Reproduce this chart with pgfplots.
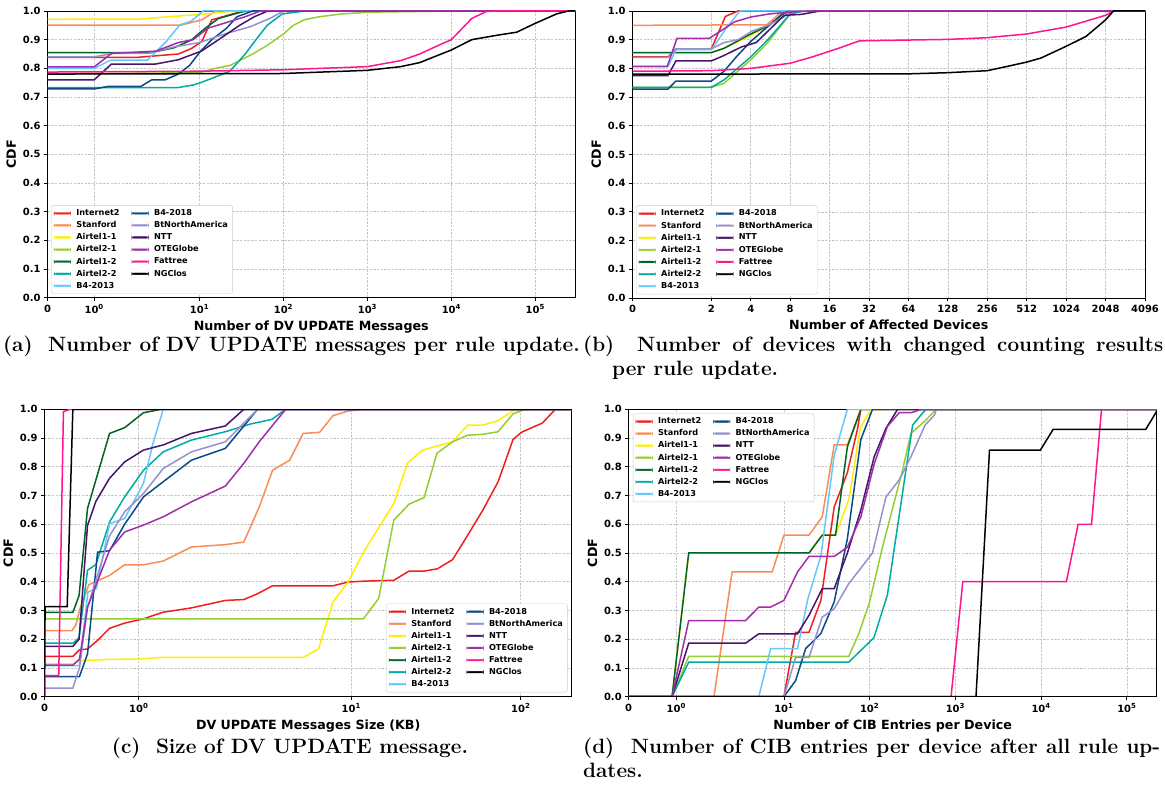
\documentclass[border=0pt]{standalone}
\usepackage{fontspec}
\usepackage{pgfplots}
\pgfplotsset{compat=1.18}
\newfontfamily\dv{DejaVu Sans}
\definecolor{cInt}{RGB}{240,30,30}
\definecolor{cStan}{RGB}{250,140,85}
\definecolor{cAa}{RGB}{255,238,0}
\definecolor{cAb}{RGB}{150,205,50}
\definecolor{cAc}{RGB}{0,100,35}
\definecolor{cAd}{RGB}{0,172,162}
\definecolor{cBa}{RGB}{100,200,250}
\definecolor{cBb}{RGB}{10,75,135}
\definecolor{cBt}{RGB}{150,145,205}
\definecolor{cNTT}{RGB}{70,20,105}
\definecolor{cOTE}{RGB}{160,45,170}
\definecolor{cFat}{RGB}{255,20,145}
\definecolor{cNG}{RGB}{0,0,0}
\pgfplotsset{
  base/.style={
    scale only axis,
    ymin=0,ymax=1,
    ytick={0,0.1,0.2,0.3,0.4,0.5,0.6,0.7,0.8,0.9,1},
    yticklabels={0.0,0.1,0.2,0.3,0.4,0.5,0.6,0.7,0.8,0.9,1.0},
    tick label style={font=\dv\bfseries\fontsize{10}{12}\selectfont},
    label style={font=\dv\bfseries\fontsize{12.7}{15}\selectfont},
    ylabel={CDF},
    grid=major,
    grid style={dash pattern=on 2.4bp off 1.3bp, color=black!22, line width=0.6bp},
    axis line style={line width=0.9bp},
    tick align=outside, xtick pos=bottom, ytick pos=left,
    major tick length=3.5bp, tick style={black, line width=0.8bp},
    legend cell align=left,
    legend columns=2,
    legend image code/.code={\fill[##1] (0bp,-0.8bp) rectangle (16.5bp,0.8bp);},
    legend style={font=\dv\bfseries\fontsize{8.2}{9.8}\selectfont, draw=black!20, rounded corners=2bp, fill=white, inner xsep=2.5bp, inner ysep=2bp, nodes={inner ysep=2.2bp},
      /tikz/every odd column/.append style={column sep=3.5bp},
      /tikz/every even column/.append style={column sep=10bp}},
  },
  p/.style={forget plot, line width=1.5bp},
  sym10/.style={x filter/.expression={min(x,2)*0.5555556+ln(max(x,2)/2)*0.4342945}},
  sym2/.style={x filter/.expression={min(x,2)+ln(max(x,2)/2)*1.4426950}},
}
\newcommand\LEG{%
\addlegendimage{cInt}\addlegendentry{Internet2}
\addlegendimage{cBb}\addlegendentry{B4-2018}
\addlegendimage{cStan}\addlegendentry{Stanford}
\addlegendimage{cBt}\addlegendentry{BtNorthAmerica}
\addlegendimage{cAa}\addlegendentry{Airtel1-1}
\addlegendimage{cNTT}\addlegendentry{NTT}
\addlegendimage{cAb}\addlegendentry{Airtel2-1}
\addlegendimage{cOTE}\addlegendentry{OTEGlobe}
\addlegendimage{cAc}\addlegendentry{Airtel1-2}
\addlegendimage{cFat}\addlegendentry{Fattree}
\addlegendimage{cAd}\addlegendentry{Airtel2-2}
\addlegendimage{cNG}\addlegendentry{NGClos}
\addlegendimage{cBa}\addlegendentry{B4-2013}}
\begin{document}
\begin{tikzpicture}
\useasboundingbox (0,0) rectangle (1165bp,789bp);
% ---------------- (a)
\begin{axis}[base, sym10, at={(47.6bp,491.3bp)}, anchor=south west,
  width=527.4bp, height=286.7bp,
  xmin=0, xmax=6.283,
  xtick={0,0.5556,1.8101,2.8101,3.8101,4.8101,5.8101},
  xticklabels={0,10\textsuperscript{0},10\textsuperscript{1},10\textsuperscript{2},10\textsuperscript{3},10\textsuperscript{4},10\textsuperscript{5}},
  xlabel={Number of DV UPDATE Messages},
  legend style={at={(0.007,0.013)},anchor=south west}]
\addplot[p,cInt] coordinates {(0,0.838)(1.9,0.838)(5.6,0.85)(8,0.869)(10.6,0.893)(14,0.969)(33,1)(3e5,1)};
\addplot[p,cStan] coordinates {(0,0.951)(6.1,0.951)(10.6,0.969)(15.3,0.998)(17,1)(3e5,1)};
\addplot[p,cAa] coordinates {(0,0.971)(2,0.972)(4.2,0.98)(10.6,0.988)(22,0.998)(33,1)(3e5,1)};
\addplot[p,cAb] coordinates {(0,0.78)(10,0.785)(15.5,0.80)(23,0.81)(43,0.85)(64,0.88)(100,0.92)(131,0.95)(179,0.97)(270,0.98)(500,0.99)(1100,0.996)(10000,1)(3e5,1)};
\addplot[p,cAc] coordinates {(0,0.855)(2.7,0.855)(5,0.872)(8,0.899)(11.6,0.939)(16.8,0.974)(33,0.998)(45,1)(3e5,1)};
\addplot[p,cAd] coordinates {(0,0.733)(5.6,0.733)(8.4,0.742)(10.3,0.75)(15.5,0.77)(23,0.79)(35,0.85)(47,0.90)(64,0.95)(97,0.99)(180,1)(3e5,1)};
\addplot[p,cBa] coordinates {(0,0.80)(1,0.80)(1.36,0.829)(2.4,0.829)(4,0.893)(5.8,0.951)(8,0.965)(11,1)(3e5,1)};
\addplot[p,cBb] coordinates {(0,0.728)(1,0.728)(1.3,0.737)(2,0.737)(2.7,0.76)(3.9,0.76)(5.6,0.78)(7.6,0.81)(10.3,0.86)(14,0.90)(21,0.94)(28,0.98)(43,1)(3e5,1)};
\addplot[p,cBt] coordinates {(0,0.84)(1,0.84)(1.4,0.852)(2.4,0.852)(5,0.875)(10,0.89)(20,0.92)(40,0.945)(70,0.975)(100,1)(3e5,1)};
\addplot[p,cNTT] coordinates {(0,0.76)(1,0.76)(1.37,0.815)(3,0.815)(5.6,0.83)(10.5,0.86)(15,0.89)(30,0.95)(45,0.98)(65,1)(3e5,1)};
\addplot[p,cOTE] coordinates {(0,0.805)(1,0.805)(1.37,0.852)(3,0.86)(5.6,0.89)(8.4,0.90)(12.6,0.94)(21,0.96)(35,0.98)(53,1)(3e5,1)};
\addplot[p,cFat] coordinates {(0,0.787)(10,0.79)(100,0.795)(1000,0.806)(2500,0.827)(4200,0.85)(7000,0.88)(10000,0.90)(17500,0.974)(26000,0.998)(35000,1)(3e5,1)};
\addplot[p,cNG] coordinates {(0,0.78)(100,0.782)(1000,0.793)(2500,0.806)(4200,0.82)(7000,0.846)(10000,0.864)(17500,0.90)(36000,0.916)(60000,0.926)(100000,0.957)(180000,0.99)(250000,1)(3e5,1)};
\LEG
\end{axis}
% ---------------- (b)
\begin{axis}[base, sym2, at={(632.5bp,491bp)}, anchor=south west,
  width=512.5bp, height=287bp,
  xmin=0, xmax=13,
  xtick={0,2,3,4,5,6,7,8,9,10,11,12,13},
  xticklabels={0,2,4,8,16,32,64,128,256,512,1024,2048,4096},
  xlabel={Number of Affected Devices},
  legend style={at={(0.007,0.013)},anchor=south west}]
\addplot[p,cInt] coordinates {(0,0.84)(0.9,0.84)(1.1,0.868)(2,0.868)(2.56,0.981)(3.2,1)(4096,1)};
\addplot[p,cStan] coordinates {(0,0.95)(5.3,0.952)(7,1)(4096,1)};
\addplot[p,cAa] coordinates {(0,0.855)(2,0.855)(2.5,0.87)(4,0.915)(5.4,0.945)(7.5,1)(4096,1)};
\addplot[p,cAb] coordinates {(0,0.734)(2,0.734)(2.5,0.748)(4,0.83)(5.4,0.89)(8,0.99)(10,1)(4096,1)};
\addplot[p,cAc] coordinates {(0,0.855)(2,0.855)(2.5,0.87)(4,0.92)(5.5,0.95)(7.5,1)(4096,1)};
\addplot[p,cAd] coordinates {(0,0.734)(2,0.734)(2.5,0.76)(4,0.84)(5.4,0.90)(8,0.99)(10,1)(4096,1)};
\addplot[p,cBa] coordinates {(0,0.806)(0.9,0.806)(1.1,0.865)(2,0.865)(2.6,0.94)(3.3,1)(4096,1)};
\addplot[p,cBb] coordinates {(0,0.728)(0.9,0.728)(1.1,0.756)(2,0.756)(2.5,0.79)(3.1,0.84)(4,0.894)(5.4,0.946)(7,0.99)(8,1)(4096,1)};
\addplot[p,cBt] coordinates {(0,0.838)(0.9,0.838)(1.1,0.868)(2,0.868)(2.5,0.89)(3.2,0.90)(4.1,0.93)(5.4,0.95)(7.2,0.98)(8,1)(4096,1)};
\addplot[p,cNTT] coordinates {(0,0.775)(0.9,0.775)(1.1,0.826)(2,0.826)(2.5,0.845)(3.4,0.875)(4.4,0.89)(7.2,0.985)(9.7,0.988)(13.5,1)(4096,1)};
\addplot[p,cOTE] coordinates {(0,0.807)(0.88,0.807)(1.13,0.905)(1.95,0.905)(2.35,0.93)(3,0.962)(4,0.979)(5.6,0.99)(8.5,0.997)(12,1)(4096,1)};
\addplot[p,cFat] coordinates {(0,0.79)(2,0.792)(4,0.80)(8,0.818)(11.8,0.84)(18.7,0.87)(27,0.896)(128,0.901)(256,0.907)(512,0.92)(1024,0.944)(2048,0.985)(2350,1)(4096,1)};
\addplot[p,cNG] coordinates {(0,0.78)(64,0.781)(128,0.785)(256,0.792)(364,0.807)(512,0.822)(657,0.836)(1024,0.877)(1448,0.911)(2048,0.969)(2350,1)(4096,1)};
\LEG
\end{axis}
% ---------------- (c)
\begin{axis}[base, sym10, at={(44.6bp,92.3bp)}, anchor=south west,
  width=527.2bp, height=287.4bp,
  xmin=0, xmax=3.1111,
  xtick={0,0.5556,1.8101,2.8101},
  xticklabels={0,10\textsuperscript{0},10\textsuperscript{1},10\textsuperscript{2}},
  xlabel={DV UPDATE Messages Size (KB)},
  legend style={at={(0.992,0.015)},anchor=south east}]
\addplot[p,cInt] coordinates {(0,0.14)(0.3,0.14)(0.37,0.163)(0.456,0.166)(0.56,0.195)(0.69,0.238)(0.85,0.256)(1.05,0.271)(1.26,0.294)(1.56,0.309)(1.92,0.335)(2.32,0.338)(2.79,0.358)(3.43,0.386)(7.8,0.386)(9.6,0.399)(11.8,0.402)(17.8,0.405)(21.9,0.437)(26.9,0.437)(32.2,0.445)(39.6,0.477)(48.6,0.562)(59.7,0.649)(73.5,0.748)(90,0.895)(101,0.92)(110,0.93)(134,0.952)(160,1)(200,1)};
\addplot[p,cStan] coordinates {(0,0.23)(0.29,0.23)(0.33,0.248)(0.38,0.31)(0.47,0.39)(0.69,0.422)(0.85,0.459)(1.05,0.459)(1.26,0.472)(1.56,0.521)(1.92,0.529)(2.32,0.538)(2.86,0.66)(3.43,0.788)(4.33,0.823)(5.19,0.916)(6.5,0.92)(7.8,0.978)(9.6,0.994)(11.8,1)(200,1)};
\addplot[p,cAa] coordinates {(0,0.114)(0.3,0.114)(0.37,0.125)(0.69,0.13)(1.0,0.131)(1.26,0.137)(5.2,0.137)(6.4,0.166)(7.8,0.33)(9.6,0.40)(11.8,0.503)(17.8,0.672)(21.4,0.812)(26.3,0.858)(39.5,0.887)(48.6,0.945)(59.7,0.945)(73,0.96)(90,0.994)(101,1)(200,1)};
\addplot[p,cAb] coordinates {(0,0.271)(11.8,0.271)(14.5,0.342)(17.8,0.614)(21.9,0.67)(26.9,0.693)(32,0.847)(39.6,0.887)(48.6,0.91)(60,0.913)(73.5,0.922)(90,0.984)(101,0.995)(108,1)(200,1)};
\addplot[p,cAc] coordinates {(0,0.293)(0.3,0.293)(0.366,0.352)(0.456,0.655)(0.69,0.916)(0.85,0.936)(1.05,0.988)(1.24,1)(200,1)};
\addplot[p,cAd] coordinates {(0,0.186)(0.3,0.186)(0.366,0.205)(0.456,0.44)(0.545,0.46)(0.69,0.608)(0.85,0.695)(1.05,0.788)(1.26,0.852)(1.56,0.893)(1.92,0.922)(2.55,0.949)(3.4,0.965)(4.1,1)(200,1)};
\addplot[p,cBa] coordinates {(0,0.108)(0.37,0.108)(0.46,0.364)(0.55,0.376)(0.69,0.602)(0.85,0.62)(1.05,0.742)(1.15,0.88)(1.26,1)(200,1)};
\addplot[p,cBb] coordinates {(0,0.07)(0.37,0.07)(0.456,0.149)(0.563,0.503)(0.69,0.508)(0.85,0.60)(1.05,0.695)(1.26,0.748)(1.56,0.823)(1.92,0.864)(2.8,1)(200,1)};
\addplot[p,cBt] coordinates {(0,0.03)(0.3,0.03)(0.37,0.1)(0.456,0.31)(0.69,0.56)(0.85,0.643)(1.05,0.707)(1.26,0.794)(1.56,0.852)(1.92,0.887)(2.8,1)(200,1)};
\addplot[p,cNTT] coordinates {(0,0.175)(0.3,0.175)(0.366,0.2)(0.456,0.596)(0.545,0.68)(0.69,0.76)(0.85,0.817)(1.05,0.858)(1.26,0.876)(1.56,0.916)(1.92,0.942)(2.32,1)(200,1)};
\addplot[p,cOTE] coordinates {(0,0.11)(0.3,0.11)(0.37,0.13)(0.456,0.312)(0.69,0.51)(0.85,0.573)(1.05,0.597)(1.26,0.626)(1.56,0.678)(1.92,0.733)(2.32,0.812)(2.86,0.887)(4.1,1)(200,1)};
\addplot[p,cFat] coordinates {(0,0)(0.001,0.073)(0.15,0.073)(0.2,0.992)(0.27,1)(200,1)};
\addplot[p,cNG] coordinates {(0,0)(0.005,0.313)(0.24,0.313)(0.3,1)(200,1)};
\LEG
\end{axis}
% ---------------- (d)
\begin{axis}[base, sym10, at={(628.7bp,92.3bp)}, anchor=south west,
  width=528bp, height=287.4bp,
  xmin=0, xmax=6.158,
  xtick={0,0.5556,1.8101,2.8101,3.8101,4.8101,5.8101},
  xticklabels={0,10\textsuperscript{0},10\textsuperscript{1},10\textsuperscript{2},10\textsuperscript{3},10\textsuperscript{4},10\textsuperscript{5}},
  xlabel={Number of CIB Entries per Device},
  legend style={at={(0.008,0.986)},anchor=north west}]
\addplot[p,cInt] coordinates {(0,0)(10,0)(13.7,0.224)(19.6,0.224)(27,0.335)(38.6,0.66)(55,0.78)(72,0.93)(79,1)(2.3e5,1)};
\addplot[p,cStan] coordinates {(0,0)(1.79,0)(2.49,0.434)(7.3,0.434)(10,0.562)(19.6,0.562)(28,0.626)(38.6,0.876)(55,0.876)(79,1)(2.3e5,1)};
\addplot[p,cAa] coordinates {(0,0)(0.91,0)(1.26,0.5)(19.6,0.5)(28,0.562)(40,0.562)(57.7,0.69)(77.6,0.934)(103,1)(2.3e5,1)};
\addplot[p,cAb] coordinates {(0,0)(0.91,0)(1.26,0.14)(57,0.14)(75,0.22)(100,0.33)(141,0.52)(238,0.78)(303,0.916)(455,0.963)(596,1)(2.3e5,1)};
\addplot[p,cAc] coordinates {(0,0)(0.91,0)(1.26,0.5)(19.6,0.5)(28,0.562)(40,0.562)(55,0.87)(79,1)(2.3e5,1)};
\addplot[p,cAd] coordinates {(0,0)(0.91,0)(1.26,0.12)(57,0.12)(112,0.205)(161,0.354)(238,0.695)(317,0.945)(417,0.988)(455,1)(2.3e5,1)};
\addplot[p,cBa] coordinates {(0,0)(5.1,0)(7,0.167)(14.4,0.167)(19,0.34)(27,0.49)(38.6,0.84)(55,1)(2.3e5,1)};
\addplot[p,cBb] coordinates {(0,0)(10,0)(13.7,0.056)(17.9,0.167)(27,0.22)(38.6,0.33)(55,0.55)(79,0.895)(108,1)(2.3e5,1)};
\addplot[p,cBt] coordinates {(0,0)(10,0)(13.7,0.137)(19.6,0.137)(28,0.277)(38.6,0.306)(57,0.393)(108,0.5)(155,0.695)(221,0.754)(303,0.835)(443,0.945)(570,0.98)(600,1)(2.3e5,1)};
\addplot[p,cNTT] coordinates {(0,0)(0.91,0)(1.26,0.186)(3.57,0.186)(5.1,0.219)(14.4,0.219)(19.6,0.283)(28,0.376)(38.6,0.376)(55,0.50)(79,0.65)(113,0.835)(155,0.934)(212,1)(2.3e5,1)};
\addplot[p,cOTE] coordinates {(0,0)(0.91,0)(1.26,0.265)(3.57,0.265)(5.1,0.312)(7,0.312)(10,0.335)(14.4,0.434)(19.6,0.488)(38.6,0.488)(55,0.52)(79,0.626)(113,0.81)(161,0.94)(221,0.988)(303,0.988)(400,1)(2.3e5,1)};
\addplot[p,cFat] coordinates {(0,0)(890,0)(1220,0.40)(19700,0.40)(27000,0.60)(38700,0.60)(50600,1)(2.3e5,1)};
\addplot[p,cNG] coordinates {(0,0)(1740,0)(2500,0.858)(9800,0.858)(13800,0.93)(166000,0.93)(2.3e5,1)};
\LEG
\end{axis}
% ---------------- captions
\begin{scope}[every node/.style={inner sep=0pt, font=\bfseries\fontsize{20.8}{25}\selectfont}]
\node[anchor=base] at (291.5bp,437bp) {(a)\ \ Number of DV UPDATE messages per rule update.};
\node[anchor=base west] at (583bp,437bp) {\makebox[580bp][s]{(b)\ \ Number of devices with changed counting results}};
\node[anchor=base west] at (612bp,413bp) {per rule update.};
\node[anchor=base] at (290bp,36bp) {(c)\ \ Size of DV UPDATE message.};
\node[anchor=base west] at (583bp,36bp) {\makebox[577bp][s]{(d)\ \ Number of CIB entries per device after all rule up-}};
\node[anchor=base west] at (583bp,12bp) {dates.};
\end{scope}
\end{tikzpicture}
\end{document}
